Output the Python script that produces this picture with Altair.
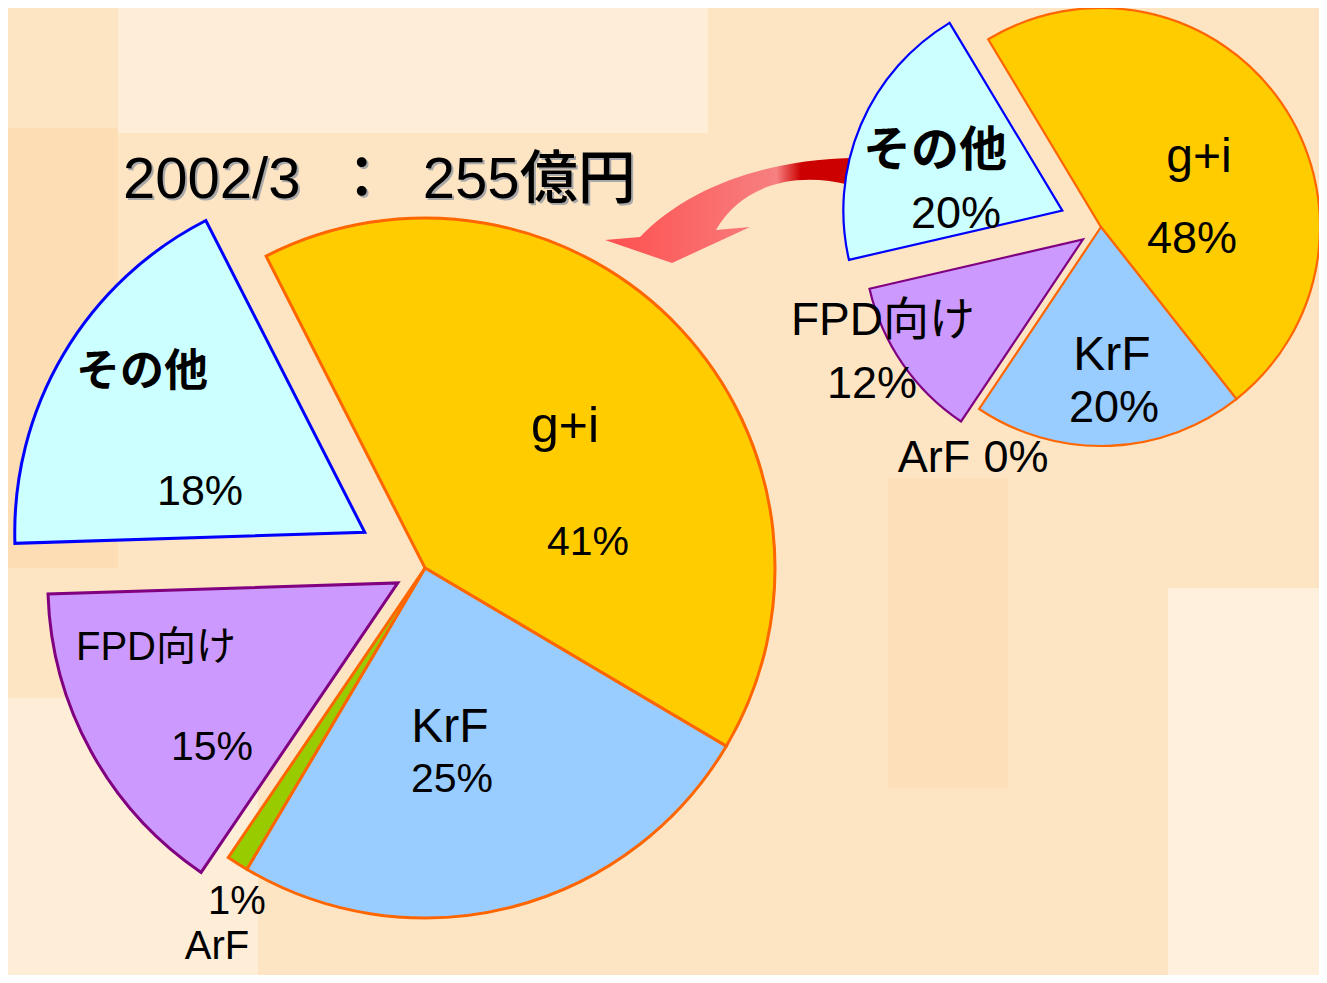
import math
import altair as alt
import pandas as pd

# ---------------- data ----------------
categories = ["g+i", "KrF", "ArF", "FPD向け", "その他"]
share_2002 = [41, 25, 1, 15, 18]      # large pie (2002/3)
share_recent = [48, 20, 0, 12, 20]    # small pie
title_text = "2002/3\u00a0\u00a0：\u00a0\u00a0255億円"

# ---------------- style ----------------
FONT = "Liberation Sans, Noto Sans CJK JP, sans-serif"
FILL = {"g+i": "#ffcc00", "KrF": "#99ccff", "ArF": "#99cc00",
        "FPD向け": "#cc99ff", "その他": "#ccffff"}
STROKE = {"g+i": "#ff6600", "KrF": "#ff6600", "ArF": "#ff6600",
          "FPD向け": "#800080", "その他": "#0000ff"}
BOLD_NAMES = {"その他"}

W, H = 1311, 967
BIG = dict(cx=417, cy=560, r=350, start=-27, sw=3,
           explode={"FPD向け": 31, "その他": 70})
SMALL = dict(cx=1093, cy=219, r=219, start=-31, sw=2.2,
             explode={"FPD向け": 22, "その他": 42})

# label placement (center x, baseline y, font size) in chart pixels
BIG_LABELS = {
    "g+i": [(557, 434, 50), (580, 547, 41)],
    "KrF": [(442, 734, 48), (444, 784, 41)],
    "ArF": [(209, 951, 40), (229, 906, 40)],
    "FPD向け": [(148, 652, 40), (204, 752, 41)],
    "その他": [(134, 378, 44), (192, 497, 43)],
}
SMALL_LABELS = {
    "g+i": [(1191, 164, 48), (1184, 245, 45)],
    "KrF": [(1104, 362, 48), (1106, 414, 45)],
    "ArF": [(926, 464, 45), (1008, 464, 45)],
    "FPD向け": [(875, 327, 46), (864, 390, 45)],
    "その他": [(927, 158, 48), (948, 220, 45)],
}

# decorative background patches (soft light / darker bands)
BG_PATCHES = [
    (0, 110, 120, 560, "#fbd3a2", 0.45),
    (110, 700, 0, 125, "#fff6ea", 0.5),
    (0, 250, 690, 967, "#fff4e6", 0.6),
    (1160, 1311, 580, 967, "#fff6ec", 0.6),
    (880, 1000, 470, 780, "#fcd9aa", 0.4),
]


def pie_table(values, spec):
    rows = []
    total = float(sum(values))
    acc = spec["start"]
    for cat, v in zip(categories, values):
        span = 360.0 * v / total
        a0, a1 = acc, acc + span
        acc = a1
        if v == 0:
            continue
        mid = math.radians((a0 + a1) / 2)
        e = spec["explode"].get(cat, 0)
        rows.append(dict(cat=cat, t0=math.radians(a0), t1=math.radians(a1),
                         x=spec["cx"] + e * math.sin(mid),
                         y=spec["cy"] - e * math.cos(mid),
                         fill=FILL[cat], stroke=STROKE[cat]))
    return pd.DataFrame(rows)


def pie_layer(values, spec):
    df = pie_table(values, spec)
    return alt.Chart(df).mark_arc(radius=spec["r"], strokeWidth=spec["sw"],
                                  strokeJoin="miter").encode(
        theta=alt.Theta("t0:Q", scale=None),
        theta2="t1:Q",
        x=alt.X("x:Q", scale=None),
        y=alt.Y("y:Q", scale=None),
        fill=alt.Fill("fill:N", scale=None),
        stroke=alt.Stroke("stroke:N", scale=None),
        order=alt.Order("t0:Q"),
    )


def label_table(values, placement):
    rows = []
    for cat, v in zip(categories, values):
        (nx, ny, nfs), (px, py, pfs) = placement[cat]
        rows.append(dict(txt=cat, x=nx, y=ny, fs=nfs,
                         kind="bold" if cat in BOLD_NAMES else "plain"))
        rows.append(dict(txt=f"{v}%", x=px, y=py, fs=pfs, kind="plain"))
    return pd.DataFrame(rows)


labels_df = pd.concat([label_table(share_2002, BIG_LABELS),
                       label_table(share_recent, SMALL_LABELS)],
                      ignore_index=True)


def text_layer(kind, weight):
    return alt.Chart(labels_df).transform_filter(
        alt.datum.kind == kind
    ).mark_text(
        align="center", baseline="alphabetic", font=FONT,
        fontWeight=weight, color="#000000"
    ).encode(
        x=alt.X("x:Q", scale=None),
        y=alt.Y("y:Q", scale=None),
        text="txt:N",
        size=alt.Size("fs:Q", scale=None),
    )


bg_df = pd.DataFrame(BG_PATCHES, columns=["x0", "x1", "y0", "y1", "c", "op"])
background = alt.Chart(bg_df).mark_rect(strokeWidth=0).encode(
    x=alt.X("x0:Q", scale=None), x2="x1:Q",
    y=alt.Y("y0:Q", scale=None), y2="y1:Q",
    fill=alt.Fill("c:N", scale=None),
    opacity=alt.Opacity("op:Q", scale=None),
)

# decorative curved arrow (small pie -> large pie)
ARROW_PATH = ("M 120 -52 C 40 -50 -40 -25 -90 27 L -125 30 L -58 53 L 20 17 "
              "L -14 20 C 10 -22 60 -40 120 -25 Z")
arrow_grad = alt.LinearGradient(
    gradient="linear", x1=0, x2=1, y1=0, y2=0,
    stops=[alt.GradientStop(offset=0, color="#ff4f4f"),
           alt.GradientStop(offset=0.7, color="#f78080"),
           alt.GradientStop(offset=0.8, color="#cc0000"),
           alt.GradientStop(offset=1, color="#cc0000")])
arrow = alt.Chart(pd.DataFrame({"x": [722], "y": [202]})).mark_point(
    shape=ARROW_PATH, size=4, filled=True, fill=arrow_grad,
    strokeWidth=0, opacity=1
).encode(x=alt.X("x:Q", scale=None), y=alt.Y("y:Q", scale=None))

title_df = pd.DataFrame({"txt": [title_text]})
title_shadow = alt.Chart(title_df).mark_text(
    align="left", baseline="alphabetic", font=FONT, fontSize=58,
    fontWeight=500, color="#a8a8a8"
).encode(x=alt.value(117), y=alt.value(192), text="txt:N")
title = alt.Chart(title_df).mark_text(
    align="left", baseline="alphabetic", font=FONT, fontSize=58,
    fontWeight=500, color="#000000"
).encode(x=alt.value(115), y=alt.value(190), text="txt:N")

chart = alt.layer(
    background,
    arrow,
    pie_layer(share_2002, BIG),
    pie_layer(share_recent, SMALL),
    text_layer("plain", "normal"),
    text_layer("bold", "bold"),
    title_shadow,
    title,
).properties(
    width=W, height=H, background="#fde5c4", padding=0, autosize="none"
).configure_view(stroke=None)

chart.save("out.html", embed_options={"renderer": "svg", "actions": False})
